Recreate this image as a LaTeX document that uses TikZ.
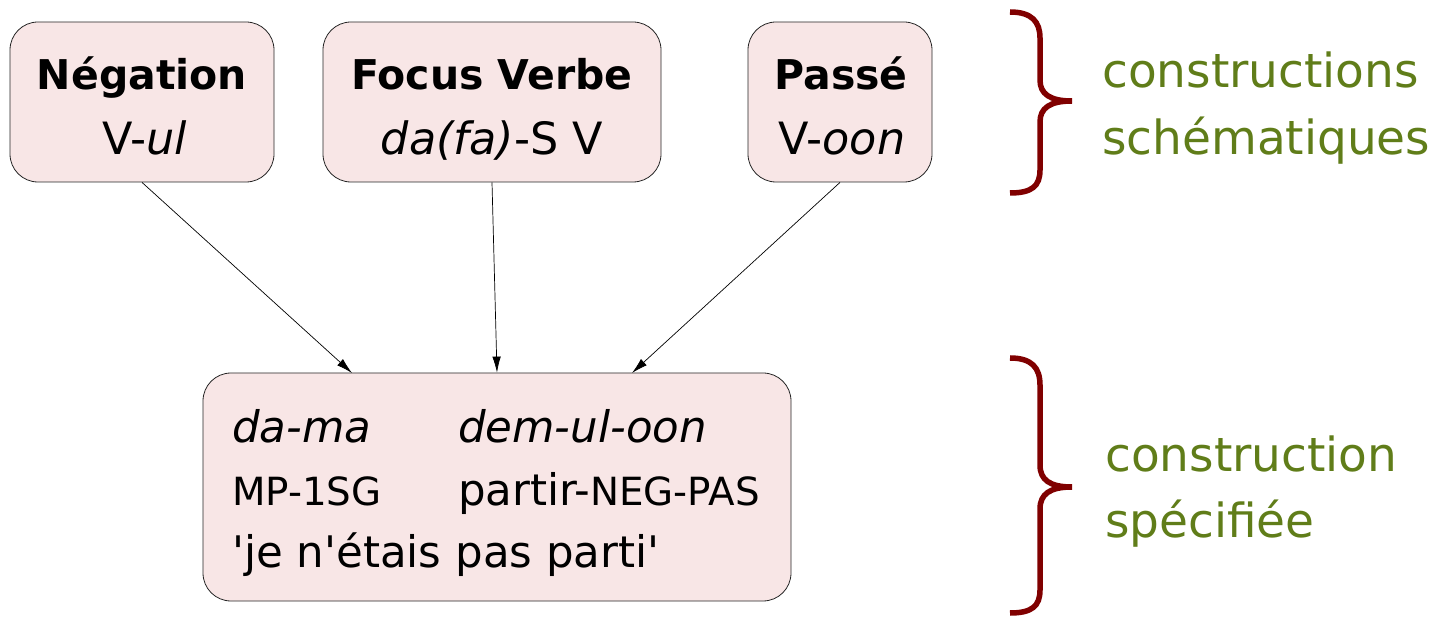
\documentclass[tikz,border=0pt]{standalone}
\usepackage{fontspec}
\setmainfont{DejaVu Sans}
\usetikzlibrary{arrows.meta}
\definecolor{boxfill}{RGB}{248,230,230}
\definecolor{bracered}{RGB}{128,0,0}
\definecolor{labgreen}{RGB}{96,125,25}
\tikzset{
  cbox/.style={draw=black!85, line width=0.8pt, fill=boxfill, rounded corners=28pt, inner sep=0pt},
  conn/.style={line width=0.7pt, -{Latex[length=16pt,width=8.5pt]}},
  brace/.style={draw=bracered, line width=5.5pt},
  ttl/.style={anchor=base, inner sep=0pt, font=\fontsize{41}{41}\selectfont\bfseries},
  sub/.style={anchor=base, inner sep=0pt, font=\fontsize{44.5}{44.5}\selectfont},
  gl/.style={anchor=base west, inner sep=0pt, font=\fontsize{43.5}{43.5}\selectfont},
  lab/.style={anchor=base west, inner sep=0pt, text=labgreen, font=\fontsize{47}{47}\selectfont},
}
\newcommand{\gsc}[1]{{\fontsize{38.8}{38.8}\selectfont #1}}
\newcommand{\sq}{\textquotesingle}
\begin{document}
\begin{tikzpicture}[x=1pt,y=-1pt]
\useasboundingbox (0,0) rectangle (1444,617);
% boxes
\node[cbox, minimum width=264pt, minimum height=160pt] (neg) at (142,102) {};
\node[cbox, minimum width=338pt, minimum height=160pt] (foc) at (492,102) {};
\node[cbox, minimum width=184pt, minimum height=160pt] (pas) at (840,102) {};
\node[cbox, minimum width=588pt, minimum height=228pt] (bot) at (497,487) {};
% box texts
\node[ttl] (negt) at (142,90) {Négation};
\node[sub] (negs) at (145,155) {V-\textit{ul}};
\node[ttl] (foct) at (492,90) {Focus Verbe};
\node[sub] (focs) at (492,155) {\textit{da(fa)}-S V};
\node[ttl] (past) at (841,90) {Passé};
\node[sub] (pass) at (842,155) {V-\textit{oon}};
\node[gl] (g1a) at (232,443) {\textit{da-ma}};
\node[gl] (g1b) at (458,443) {\textit{dem-ul-oon}};
\node[gl] (g2a) at (232,505) {\gsc{MP-1SG}};
\node[gl] (g2b) at (458,505) {partir-\gsc{NEG-PAS}};
\node[gl] (g3) at (232,567) {\sq je n\sq étais pas parti\sq};
% connectors
\coordinate (tn) at (352,373);
\coordinate (tp) at (632,373);
\draw[conn] (neg.south) -- (tn);
\draw[conn] (foc.south) -- (bot.north);
\draw[conn] (pas.south) -- (tp);
% braces
\draw[brace] (1010,12) .. controls (1032,12) and (1040,22) .. (1040,38) -- (1040,80)
  .. controls (1040,94) and (1050,101) .. (1072,101)
  .. controls (1050,101) and (1040,108) .. (1040,122) -- (1040,170)
  .. controls (1040,186) and (1032,193) .. (1010,193);
\draw[brace] (1010,358) .. controls (1032,358) and (1040,368) .. (1040,385) -- (1040,465)
  .. controls (1040,480) and (1050,487) .. (1072,487)
  .. controls (1050,487) and (1040,494) .. (1040,509) -- (1040,590)
  .. controls (1040,606) and (1032,613) .. (1010,613);
% labels
\node[lab] (l1) at (1102,88) {constructions};
\node[lab] (l2) at (1102,155) {schématiques};
\node[lab] (l3) at (1105,472) {construction};
\node[lab] (l4) at (1105,537) {spécifiée};
\end{tikzpicture}
\end{document}
